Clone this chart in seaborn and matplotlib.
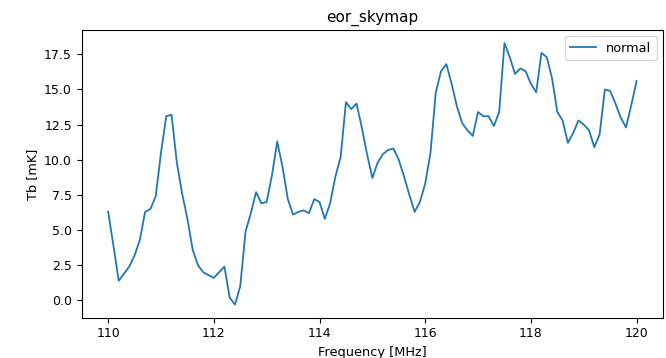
import matplotlib
matplotlib.use("Agg")
import matplotlib.pyplot as plt
import seaborn as sns

# Frequency channels [MHz]
freq_mhz = [
    110.0, 110.1, 110.2, 110.3, 110.4, 110.5, 110.6, 110.7, 110.8, 110.9,
    111.0, 111.1, 111.2, 111.3, 111.4, 111.5, 111.6, 111.7, 111.8, 111.9,
    112.0, 112.1, 112.2, 112.3, 112.4, 112.5, 112.6, 112.7, 112.8, 112.9,
    113.0, 113.1, 113.2, 113.3, 113.4, 113.5, 113.6, 113.7, 113.8, 113.9,
    114.0, 114.1, 114.2, 114.3, 114.4, 114.5, 114.6, 114.7, 114.8, 114.9,
    115.0, 115.1, 115.2, 115.3, 115.4, 115.5, 115.6, 115.7, 115.8, 115.9,
    116.0, 116.1, 116.2, 116.3, 116.4, 116.5, 116.6, 116.7, 116.8, 116.9,
    117.0, 117.1, 117.2, 117.3, 117.4, 117.5, 117.6, 117.7, 117.8, 117.9,
    118.0, 118.1, 118.2, 118.3, 118.4, 118.5, 118.6, 118.7, 118.8, 118.9,
    119.0, 119.1, 119.2, 119.3, 119.4, 119.5, 119.6, 119.7, 119.8, 119.9,
    120.0,
]

# Brightness temperature of the sky map [mK]
tb_mk = [
    6.3, 3.9, 1.4, 1.9, 2.4, 3.2, 4.3, 6.3, 6.5, 7.4,
    10.5, 13.1, 13.2, 9.8, 7.6, 5.8, 3.6, 2.5, 2.0, 1.8,
    1.6, 2.0, 2.4, 0.2, -0.3, 1.0, 4.9, 6.2, 7.7, 6.9,
    7.0, 8.9, 11.3, 9.5, 7.2, 6.1, 6.3, 6.4, 6.2, 7.2,
    7.0, 5.8, 6.9, 8.8, 10.2, 14.1, 13.6, 14.0, 12.3, 10.4,
    8.7, 9.8, 10.4, 10.7, 10.8, 10.0, 8.8, 7.5, 6.3, 7.0,
    8.3, 10.5, 14.8, 16.3, 16.8, 15.4, 13.8, 12.6, 12.1, 11.7,
    13.4, 13.1, 13.1, 12.4, 13.4, 18.3, 17.3, 16.1, 16.5, 16.3,
    15.4, 14.8, 17.6, 17.3, 15.8, 13.4, 12.8, 11.2, 11.9, 12.8,
    12.5, 12.1, 10.9, 11.8, 15.0, 14.9, 14.0, 13.0, 12.3, 13.9,
    15.6,
]

series_label = "normal"

plt.rcParams["font.family"] = ["DejaVu Sans"]
plt.rcParams["font.size"] = 9.3

fig = plt.figure(figsize=(6.66, 3.58), dpi=100)
ax = fig.add_axes([0.1227, 0.1126, 0.8728, 0.8036])

sns.lineplot(x=freq_mhz, y=tb_mk, label=series_label, color="#1f77b4",
             linewidth=1.3, ax=ax)

ax.set_title("eor_skymap", fontsize=11)
ax.set_xlabel("Frequency [MHz]", fontsize=9.3)
ax.set_ylabel("Tb [mK]", fontsize=9.3)
ax.tick_params(labelsize=9.0)
ax.legend(loc="upper right", fontsize=9.3)

fig.savefig("out.png", dpi=100)
